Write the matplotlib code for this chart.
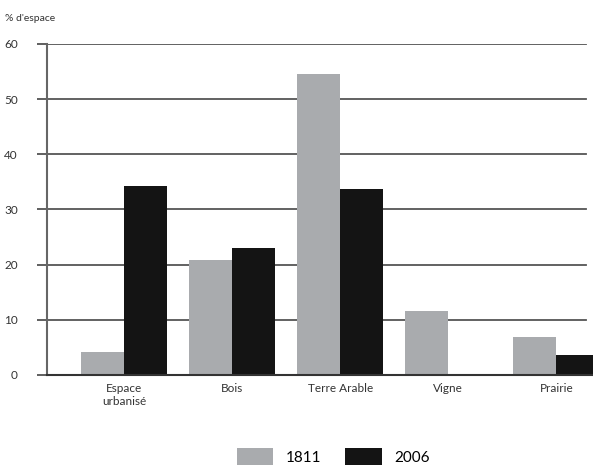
import matplotlib
matplotlib.use("Agg")
import matplotlib.pyplot as plt
import numpy as np

plt.rcParams['font.family'] = ['Lato', 'DejaVu Sans']

categories = ["Espace\nurbanisé", "Bois", "Terre Arable", "Vigne", "Prairie"]
years = ["1811", "2006"]
values_1811 = [4.2, 20.8, 54.6, 11.6, 6.9]
values_2006 = [34.2, 23.0, 33.7, 0.2, 3.6]
yticks = [0, 10, 20, 30, 40, 50, 60]

col_1811 = "#a9abae"
col_2006 = "#141414"

fig = plt.figure(figsize=(5.93, 4.73), dpi=100)
ax = fig.add_axes([0.0793, 0.2072, 0.9207, 0.6998])

x = np.arange(len(categories))
w = 0.4
ax.bar(x - w / 2, values_1811, width=w, color=col_1811, label=years[0], zorder=3)
ax.bar(x + w / 2, values_2006, width=w, color=col_2006, label=years[1], zorder=3)

ax.set_ylim(0, 60)
ax.set_xlim(-0.713, 4.34)
ax.set_yticks(yticks)
ax.set_yticklabels([str(t) for t in yticks], fontsize=8.5, color="#333333")
ax.set_xticks(x)
ax.set_xticklabels(categories, fontsize=8.5, color="#333333")
ax.tick_params(axis="x", length=0, pad=6)
ax.tick_params(axis="y", length=7, width=1.2, color="#444444", pad=14)

for t in yticks[1:]:
    ax.axhline(t, color="#555555", linewidth=1.3, zorder=1, xmax=0.988)

for s in ["top", "right"]:
    ax.spines[s].set_visible(False)
ax.spines["left"].set_color("#666666")
ax.spines["left"].set_linewidth(1.5)
ax.spines["bottom"].set_color("#333333")
ax.spines["bottom"].set_linewidth(1.5)
ax.spines["bottom"].set_zorder(4)

fig.text(0.008, 0.96, "% d'espace", fontsize=7.5, color="#333333", va="center")

fig.legend(loc="lower center", bbox_to_anchor=(0.562, -0.012), ncol=2, frameon=False,
           fontsize=11, handlelength=2.4, handleheight=1.3, columnspacing=1.6,
           handletextpad=0.8)

fig.savefig("out.png", dpi=100)
